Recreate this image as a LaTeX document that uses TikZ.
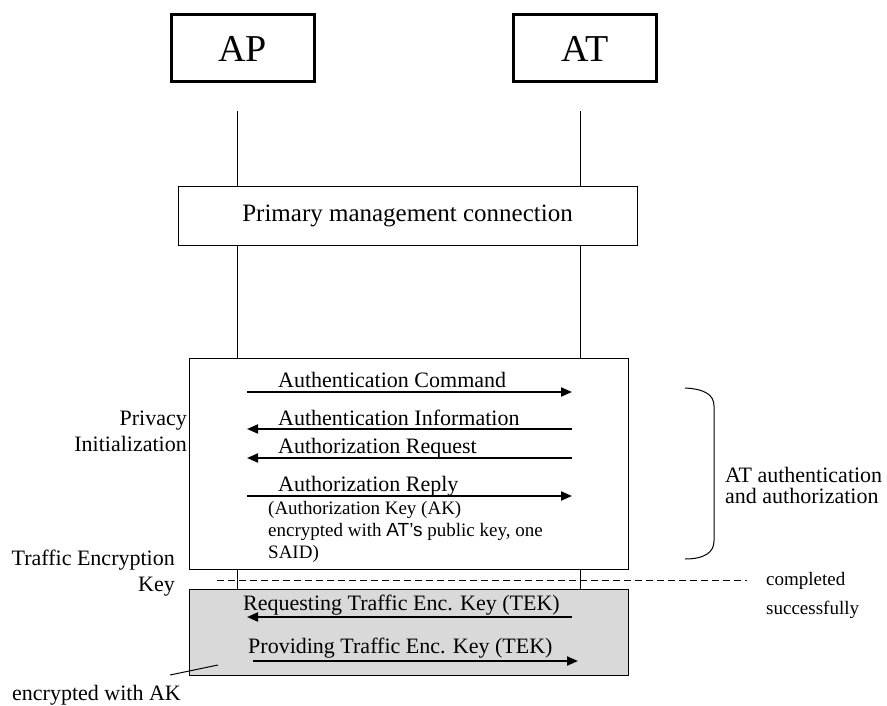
\documentclass[tikz,border=0pt]{standalone}
\usepackage{fontspec}
\setmainfont{Liberation Serif}
\newfontfamily\arialfont{Liberation Sans}
\usetikzlibrary{arrows.meta, positioning, calc}
\tikzset{
  actorbox/.style={
    draw, line width=3pt, minimum width=143pt, minimum height=67pt,
    inner sep=0pt, font=\fontsize{38}{40}\selectfont
  },
  phasebox/.style={
    draw, line width=1pt, fill=white, inner sep=0pt
  },
  lifeline/.style={line width=1pt},
  msgarrow/.style={
    -{Triangle[length=11pt,width=9pt]}, line width=2pt
  },
  msglabel/.style={
    font=\fontsize{22}{26}\selectfont, inner sep=0pt
  },
  notelabel/.style={
    font=\fontsize{19}{22}\selectfont, inner sep=0pt, align=left
  },
  sidelabel/.style={
    font=\fontsize{22}{26}\selectfont, inner sep=0pt
  },
}

\begin{document}
\begin{tikzpicture}[x=1pt, y=-1pt]
  \useasboundingbox (0,0) rectangle (887,706);

  % ---- ACTORS ----
  \node[actorbox] (ap) at (242.5,48.5) {AP};
  \node[actorbox] (at) at (585,48.5) {AT};

  % Lifelines
  \coordinate (apTop) at (237,111);
  \coordinate (apEnd) at (237,589);
  \coordinate (atTop) at (580,111);
  \coordinate (atEnd) at (580,589);
  \draw[lifeline] (apTop) -- (apEnd);
  \draw[lifeline] (atTop) -- (atEnd);

  % ---- PHASE BOXES ----
  \node[phasebox, minimum width=459pt, minimum height=58pt,
    font=\fontsize{25}{28}\selectfont] (pmc) at (407.5,216)
    {Primary management connection};
  \node[phasebox, minimum width=439pt, minimum height=211pt]
    (privbox) at (408.5,463.5) {};
  \node[phasebox, fill=black!15, minimum width=439pt, minimum height=86pt]
    (tekbox) at (408.5,632) {};

  % Completion line
  \coordinate (doneL) at (217,580);
  \coordinate (doneR) at (747,580);
  \draw[line width=1pt, dash pattern=on 7pt off 4pt] (doneL) -- (doneR);

  % ---- AUTHENTICATION / AUTHORIZATION ----
  \coordinate (cmdL) at (247,392);
  \coordinate (cmdR) at (572,392);
  \draw[msgarrow] (cmdL) -- (cmdR);
  \node[msglabel, anchor=base west] (cmdT) at (278,387)
    {Authentication Command};

  \coordinate (infoL) at (247,429);
  \coordinate (infoR) at (572,429);
  \draw[msgarrow] (infoR) -- (infoL);
  \node[msglabel, anchor=base west] (infoT) at (278,425)
    {Authentication Information};

  \coordinate (reqL) at (247,458);
  \coordinate (reqR) at (572,458);
  \draw[msgarrow] (reqR) -- (reqL);
  \node[msglabel, anchor=base west] (reqT) at (278,453)
    {Authorization Request};

  \coordinate (replyL) at (247,496);
  \coordinate (replyR) at (572,496);
  \draw[msgarrow] (replyL) -- (replyR);
  \node[msglabel, anchor=base west] (replyT) at (278,491)
    {Authorization Reply};
  \node[notelabel, anchor=north west] (replyN) at (268,501)
    {(Authorization Key (AK)\\
     encrypted with {\arialfont AT’s} public key, one\\
     SAID)};

  % ---- TEK EXCHANGE ----
  \coordinate (tekreqL) at (247,617);
  \coordinate (tekreqR) at (572,617);
  \draw[msgarrow] (tekreqR) -- (tekreqL);
  \node[msglabel, anchor=base west] (tekreqT) at (243,610)
    {Requesting Traffic Enc. Key (TEK)};

  \coordinate (tekprovL) at (253,661);
  \coordinate (tekprovR) at (578,661);
  \draw[msgarrow] (tekprovL) -- (tekprovR);
  \node[msglabel, anchor=base west] (tekprovT) at (248,653)
    {Providing Traffic Enc. Key (TEK)};

  % ---- SIDE LABELS ----
  \node[sidelabel, align=right, anchor=north east] (privT) at (187,411)
    {Privacy\\Initialization};
  \node[sidelabel, align=right, anchor=north east] (tekT) at (175,550)
    {Traffic Encryption\\Key};

  % Brace
  \coordinate (brT) at (685,388);
  \coordinate (brB) at (685,559);
  \draw[line width=1pt] (brT) .. controls (705,389) and (714,395) .. (714,406)
    -- (714,541) .. controls (714,552) and (705,559) .. (brB);
  \node[sidelabel, align=left, anchor=north west,
    font=\fontsize{22}{21}\selectfont] (authT) at (725,467)
    {AT authentication\\and authorization};

  \node[notelabel, anchor=north west] (doneT) at (766,572)
    {completed\\[7pt]successfully};

  % Encryption pointer
  \node[sidelabel, anchor=base west] (encT) at (12,700) {encrypted with AK};
  \coordinate (encA) at (170,675);
  \coordinate (encB) at (218,665);
  \draw[line width=1pt] (encA) -- (encB);
\end{tikzpicture}
\end{document}
